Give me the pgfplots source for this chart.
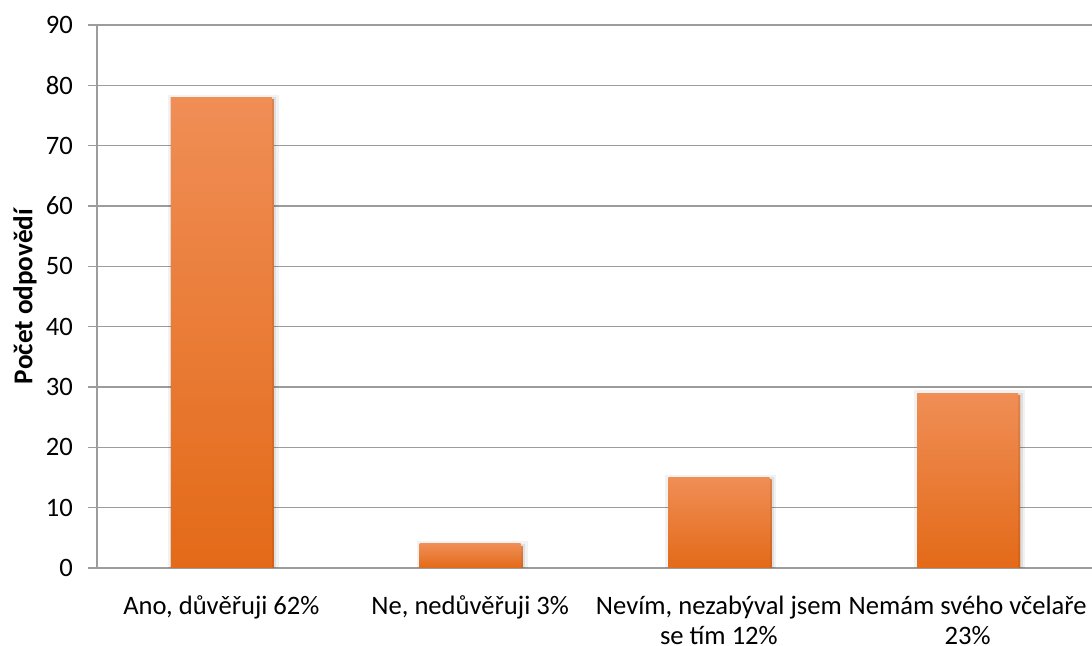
\documentclass[border=0pt]{standalone}
\usepackage{pgfplots}
\pgfplotsset{compat=1.18}
\usepackage{fontspec}
\setmainfont{Carlito}
\definecolor{gridgray}{HTML}{9C9C9C}
\definecolor{bartop}{HTML}{F08E56}
\definecolor{barmid}{HTML}{F47B24}
\definecolor{barbot}{HTML}{E36A18}
\pgfplotsset{
  orangebar/.style={
    ybar, bar shift=0pt, draw=none,
    top color=bartop, middle color=barmid, bottom color=barbot,
    preaction={draw=black, draw opacity=0.05, line width=5pt,
      transform canvas={xshift=1pt, yshift=-1.2pt}},
    preaction={draw=black, draw opacity=0.08, line width=2.5pt,
      transform canvas={xshift=1pt, yshift=-1.2pt}},
  },
}
\begin{document}
\begin{tikzpicture}
\begin{axis}[
  at={(0,0)}, anchor=south west,
  scale only axis, width=497.5pt, height=271.5pt,
  xmin=-0.5, xmax=3.5, ymin=0, ymax=90,
  axis x line=bottom, axis y line=left,
  axis line style={-, draw=gridgray, line width=0.6pt},
  ytick={0,10,...,90},
  ymajorgrids, grid style={draw=gridgray, line width=0.6pt},
  xtick={0,1,2,3},
  xticklabels={{Ano, důvěřuji 62\%},{Ne, nedůvěřuji 3\%},{Nevím, nezabýval jsem\\se tím 12\%},{Nemám svého včelaře\\23\%}},
  tick label style={font=\fontsize{13.3}{15}\selectfont},
  x tick label style={align=center, yshift=-6pt},
  y tick label style={xshift=-4pt},
  major x tick style={draw=none},
  major y tick style={draw=gridgray, line width=0.6pt},
  tick align=outside, major tick length=4.5pt,
  /pgf/number format/assume math mode=true,
  ylabel={\bfseries Počet odpovědí},
  ylabel style={at={(axis description cs:-0.0724,0.5)}, anchor=center, font=\fontsize{13.6}{15}\selectfont},
  bar width=50.5pt,
]
\addplot[orangebar] coordinates {(0,78)};
\addplot[orangebar] coordinates {(1,4)};
\addplot[orangebar] coordinates {(2,15)};
\addplot[orangebar] coordinates {(3,29)};
\end{axis}
\pgfresetboundingbox
\path[use as bounding box] (-48.5pt,-39pt) rectangle (497.5pt,284pt);
\end{tikzpicture}
\end{document}
